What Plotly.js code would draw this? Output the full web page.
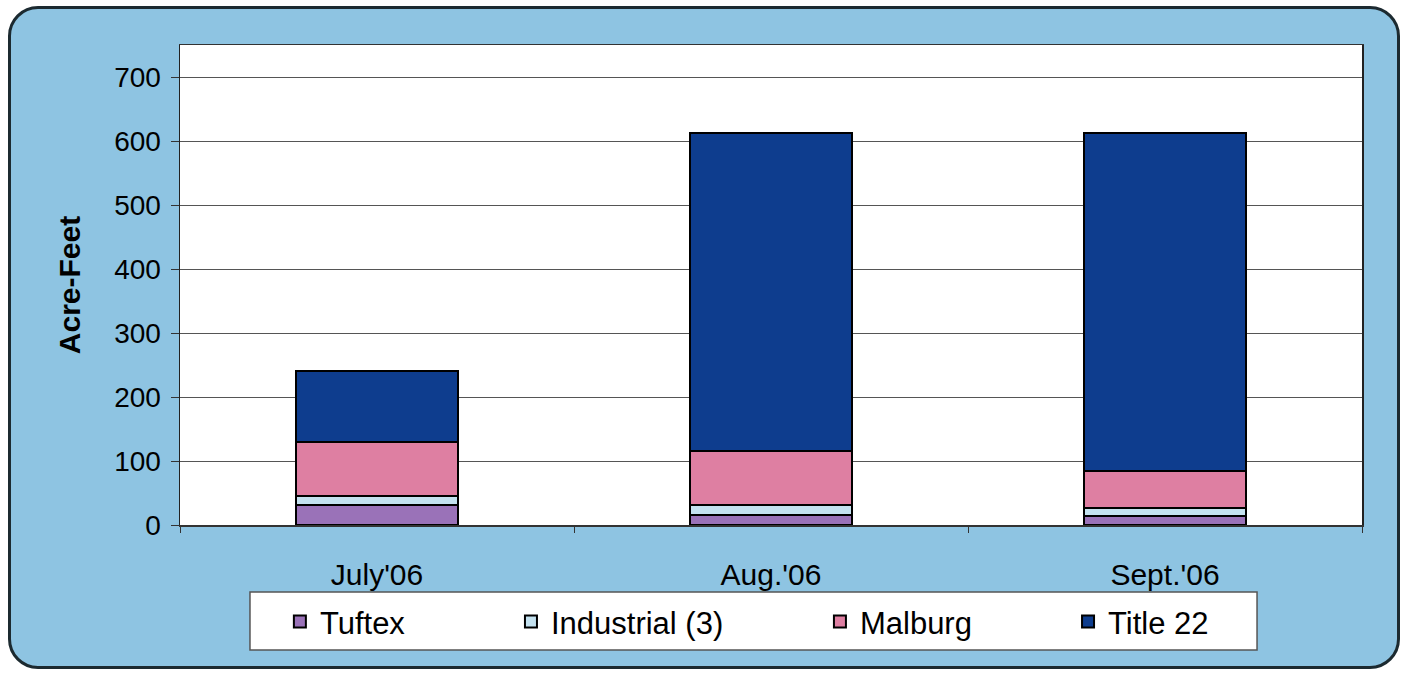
<!DOCTYPE html>
<html>
<head>
<meta charset="utf-8">
<script src="https://cdn.plot.ly/plotly-3.0.1.min.js"></script>
<style>
  html, body { margin:0; padding:0; background:#ffffff; }
  #wrap { position:relative; width:1408px; height:673px; overflow:hidden; }
  #bgbox { position:absolute; left:8px; top:6px; width:1386px; height:657px;
           border:3px solid #1c2a30; border-radius:30px; background:#8ec4e2; }
  #chart { position:absolute; left:0; top:0; width:1408px; height:673px; }
</style>
</head>
<body>
<div id="wrap">
  <div id="bgbox"></div>
  <div id="chart"></div>
</div>
<script>
// Data
const months = ["July'06", "Aug.'06", "Sept.'06"];
const tuftex = [31, 16, 14];
const industrial = [15, 16, 13];
const malburg = [84, 84, 57];
const title22 = [110, 497, 529];
const yTicks = [0, 100, 200, 300, 400, 500, 600, 700];

const seriesNames = ["Tuftex", "Industrial (3)", "Malburg", "Title 22"];
const seriesValues = [tuftex, industrial, malburg, title22];
const seriesColors = ["#9a72b8", "#c4e2f0", "#de7fa2", "#0e3d8e"];
const legendIds = ["legend", "legend2", "legend3", "legend4"];

const traces = seriesNames.map((n, i) => ({
  type: 'bar',
  name: n,
  x: months,
  y: seriesValues[i],
  marker: { color: seriesColors[i], line: { color: '#000000', width: 2 } },
  legend: legendIds[i],
  hoverinfo: 'x+y+name'
}));

const legFont = { family: 'Liberation Sans, Arial, sans-serif', size: 31, color: '#000' };
const legXs = [0.0845, 0.2800, 0.5414, 0.7513];
function legendCfg(x) {
  return { x: x, y: -0.202, xanchor: 'left', yanchor: 'middle', orientation: 'h',
           bgcolor: 'rgba(0,0,0,0)', borderwidth: 0, font: legFont };
}

const layout = {
  width: 1408, height: 673,
  margin: { l: 180, r: 46, t: 45, b: 148 },
  paper_bgcolor: 'rgba(0,0,0,0)',
  plot_bgcolor: '#ffffff',
  barmode: 'stack',
  bargap: 0.59,
  font: { family: 'Liberation Sans, Arial, sans-serif', color: '#000' },
  xaxis: {
    type: 'category',
    showline: true, linecolor: '#333', linewidth: 1.5, mirror: true,
    ticks: 'outside', tickson: 'boundaries', ticklen: 6, tickcolor: '#333',
    ticklabelstandoff: 22,
    tickfont: { size: 30, color: '#000' },
    showgrid: false
  },
  yaxis: {
    range: [0, 750],
    tickvals: yTicks,
    ticktext: yTicks.map(String),
    showline: true, linecolor: '#222', linewidth: 1.5, mirror: true,
    ticks: 'outside', ticklen: 8, tickcolor: '#333',
    ticklabelstandoff: 4,
    tickfont: { size: 28, color: '#000' },
    showgrid: true, gridcolor: '#555', gridwidth: 1,
    zeroline: false,
    title: { text: '<b>Acre-Feet</b>', font: { size: 30, color: '#000' }, standoff: 24 }
  },
  legend: legendCfg(legXs[0]),
  legend2: legendCfg(legXs[1]),
  legend3: legendCfg(legXs[2]),
  legend4: legendCfg(legXs[3]),
  shapes: [{
    type: 'rect', xref: 'paper', yref: 'paper',
    x0: 0.0592, x1: 0.9112, y0: -0.2604, y1: -0.1396,
    fillcolor: '#ffffff', line: { color: '#555', width: 1.5 }, layer: 'below'
  }],
  showlegend: true
};

Plotly.newPlot('chart', traces, layout, { displayModeBar: false, staticPlot: true });
</script>
</body>
</html>
